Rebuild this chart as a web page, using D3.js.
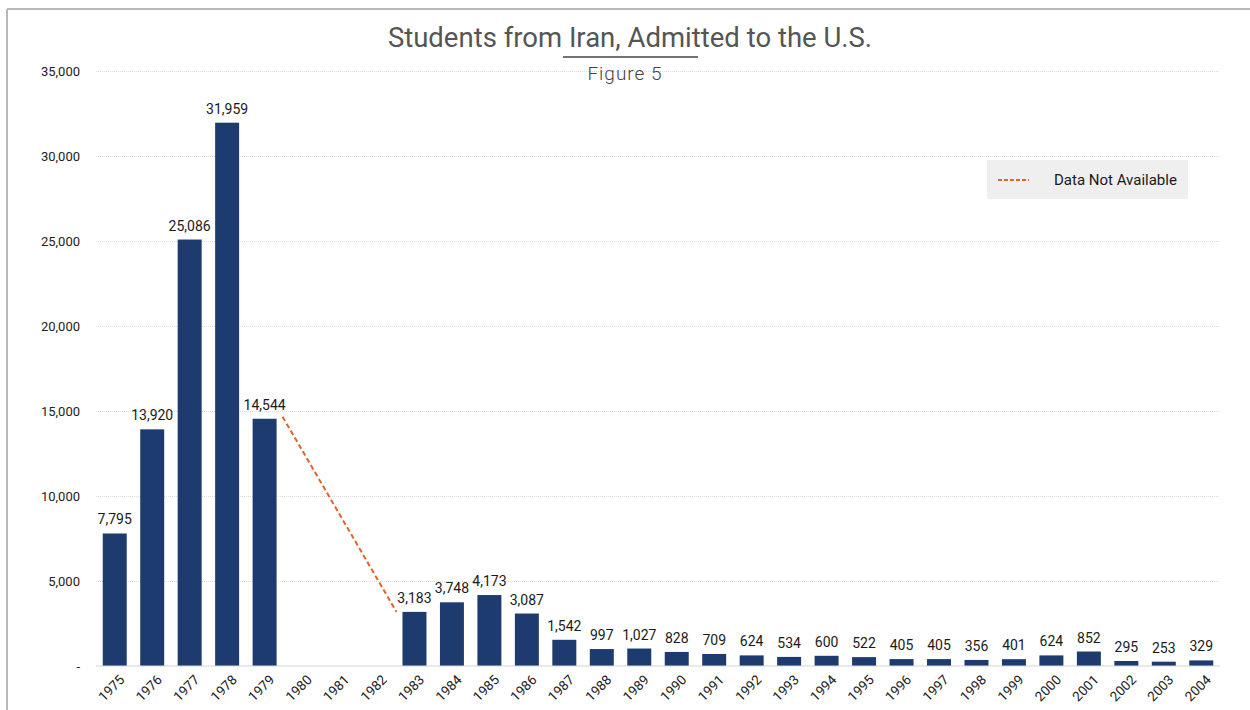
<!DOCTYPE html>
<html>
<head>
<meta charset="utf-8">
<script src="https://cdnjs.cloudflare.com/ajax/libs/d3/7.8.5/d3.min.js"></script>
<style>
  body { margin: 0; background: #fff; }
  svg { font-family: Roboto, "Open Sans", sans-serif; }
</style>
</head>
<body>
<svg id="chart" width="1250" height="710"></svg>
<script>
  // data (1980-1982 not available)
  var years = ["1975","1976","1977","1978","1979","1980","1981","1982","1983","1984",
               "1985","1986","1987","1988","1989","1990","1991","1992","1993","1994",
               "1995","1996","1997","1998","1999","2000","2001","2002","2003","2004"];
  var students = [7795, 13920, 25086, 31959, 14544, null, null, null, 3183, 3748,
                  4173, 3087, 1542, 997, 1027, 828, 709, 624, 534, 600,
                  522, 405, 405, 356, 401, 624, 852, 295, 253, 329];
  var yTicks = [0, 5000, 10000, 15000, 20000, 25000, 30000, 35000];
  var gapFrom = "1979", gapTo = "1983";

  var svg = d3.select("#chart");
  var x = d3.scaleBand().domain(years).range([96, 1220]).paddingInner(0.36).paddingOuter(0.18);
  var y = d3.scaleLinear().domain([0, 35000]).range([666, 71]);
  var fmt = d3.format(",");
  var orange = "#e2622d";

  // frame lines
  svg.append("line").attr("x1", 7).attr("x2", 7).attr("y1", 9).attr("y2", 710)
    .attr("stroke", "#b8b8b8").attr("stroke-width", 2);
  svg.append("line").attr("x1", 7).attr("x2", 1250).attr("y1", 9).attr("y2", 9)
    .attr("stroke", "#b8b8b8").attr("stroke-width", 2);

  // gridlines
  svg.append("g").selectAll("line").data(yTicks.filter(function(d){ return d > 0; })).enter()
    .append("line")
      .attr("x1", 96).attr("x2", 1220)
      .attr("y1", function(d){ return y(d) + 0.5; }).attr("y2", function(d){ return y(d) + 0.5; })
      .attr("stroke", "#dcdcdc").attr("stroke-dasharray", "1,1");

  // y axis
  var yAxis = svg.append("g").attr("transform", "translate(80,0)")
    .call(d3.axisLeft(y).tickValues(yTicks).tickSize(0)
      .tickFormat(function(d){ return d === 0 ? "-" : fmt(d); }));
  yAxis.select(".domain").remove();
  yAxis.selectAll("text").attr("font-size", 13).attr("fill", "#222")
    .attr("font-family", "Roboto, sans-serif").attr("x", 0);

  // bars
  var data = years.map(function(d, i){ return {year: d, v: students[i]}; })
    .filter(function(d){ return d.v !== null; });
  svg.append("g").selectAll("rect").data(data).enter()
    .append("rect")
      .attr("x", function(d){ return x(d.year); })
      .attr("width", x.bandwidth())
      .attr("y", function(d){ return y(d.v); })
      .attr("height", function(d){ return y(0) - y(d.v); })
      .attr("fill", "#1d3b6e");

  // value labels
  svg.append("g").selectAll("text").data(data).enter()
    .append("text")
      .attr("x", function(d){ return x(d.year) + x.bandwidth() / 2; })
      .attr("y", function(d){ return y(d.v) - 9; })
      .attr("text-anchor", "middle")
      .attr("font-size", 14)
      .attr("fill", "#1a1a1a")
      .text(function(d){ return fmt(d.v); });

  // baseline
  svg.append("line").attr("x1", 96).attr("x2", 1220).attr("y1", y(0)).attr("y2", y(0))
    .attr("stroke", "#d4d4d4").attr("stroke-width", 1);

  // x axis
  var xAxis = svg.append("g").attr("transform", "translate(0," + y(0) + ")")
    .call(d3.axisBottom(x).tickSize(0));
  xAxis.select(".domain").remove();
  xAxis.selectAll("text")
    .attr("font-size", 13.5).attr("fill", "#222").attr("font-family", "Roboto, sans-serif")
    .attr("text-anchor", "end")
    .attr("transform", "translate(4,8) rotate(-45)")
    .attr("dy", "0.7em").attr("dx", 0).attr("y", 0);

  // data not available line
  var vFrom = students[years.indexOf(gapFrom)], vTo = students[years.indexOf(gapTo)];
  svg.append("line")
    .attr("x1", x(gapFrom) + x.bandwidth() + 6).attr("y1", y(vFrom) - 2)
    .attr("x2", x(gapTo) - 6).attr("y2", y(vTo))
    .attr("stroke", orange).attr("stroke-width", 2).attr("stroke-dasharray", "5,3");

  // legend
  var lg = svg.append("g").attr("transform", "translate(987,160)");
  lg.append("rect").attr("width", 201).attr("height", 39).attr("fill", "#efefef");
  lg.append("line").attr("x1", 11).attr("x2", 42).attr("y1", 20).attr("y2", 20)
    .attr("stroke", orange).attr("stroke-width", 2).attr("stroke-dasharray", "4,2");
  lg.append("text").attr("x", 67).attr("y", 25).attr("font-size", 15).attr("fill", "#1a1a1a")
    .text("Data Not Available");

  // title
  svg.append("text").attr("x", 630).attr("y", 47).attr("text-anchor", "middle")
    .attr("font-size", 27.5).attr("fill", "#555")
    .text("Students from Iran, Admitted to the U.S.");
  svg.append("line").attr("x1", 563).attr("x2", 698).attr("y1", 57).attr("y2", 57)
    .attr("stroke", "#444").attr("stroke-width", 1.5);
  svg.append("text").attr("x", 625).attr("y", 80).attr("text-anchor", "middle")
    .attr("font-size", 19).attr("fill", "#444").attr("font-weight", 300)
    .attr("letter-spacing", 1).text("Figure 5");
</script>
</body>
</html>
